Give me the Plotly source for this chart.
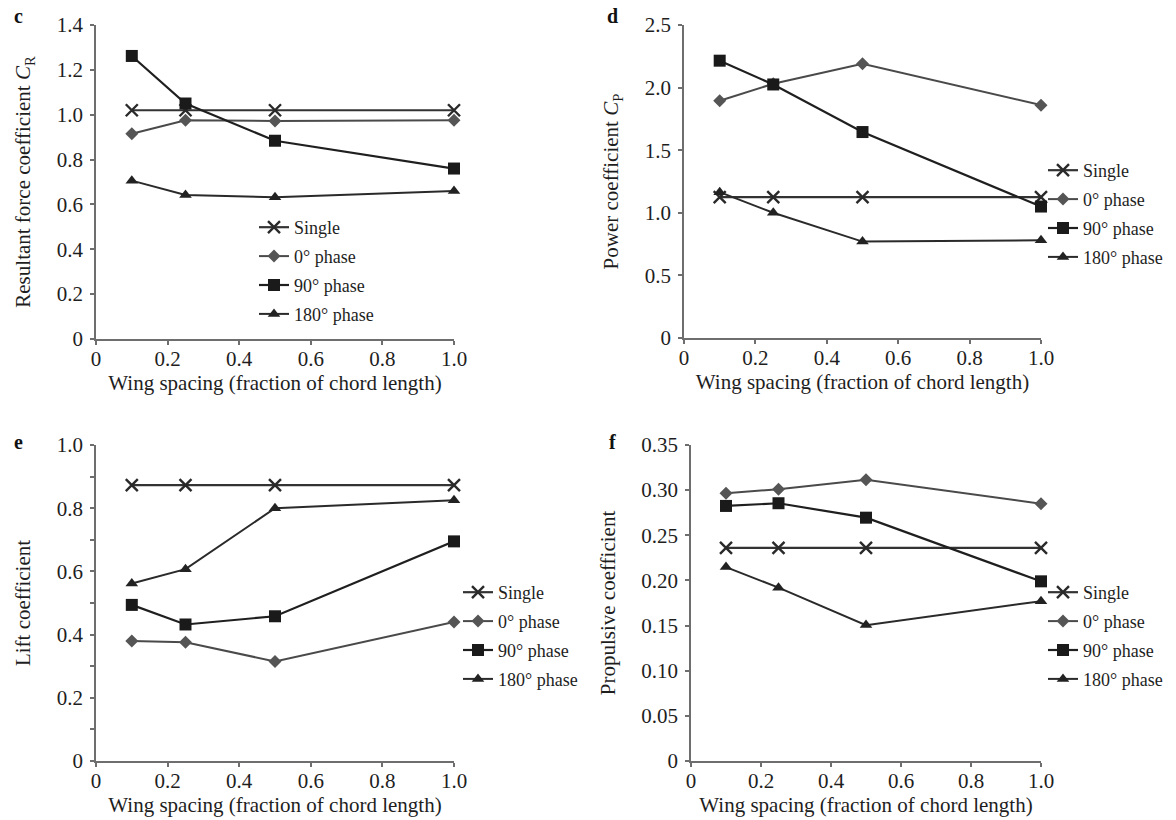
import plotly.graph_objects as go

# ---------------- data ----------------
spacing = [0.1, 0.25, 0.5, 1.0]
series_names = ["Single", "0° phase", "90° phase", "180° phase"]

# panel c: resultant force coefficient
cr_single = [1.02, 1.02, 1.02, 1.02]
cr_0 = [0.915, 0.975, 0.972, 0.975]
cr_90 = [1.262, 1.05, 0.884, 0.76]
cr_180 = [0.706, 0.642, 0.632, 0.66]

# panel d: power coefficient
cp_single = [1.125, 1.125, 1.125, 1.125]
cp_0 = [1.895, 2.03, 2.19, 1.86]
cp_90 = [2.215, 2.025, 1.645, 1.05]
cp_180 = [1.165, 1.0, 0.77, 0.78]

# panel e: lift coefficient
cl_single = [0.873, 0.873, 0.873, 0.873]
cl_0 = [0.38, 0.376, 0.315, 0.44]
cl_90 = [0.494, 0.432, 0.458, 0.695]
cl_180 = [0.562, 0.607, 0.80, 0.825]

# panel f: propulsive coefficient
ct_single = [0.236, 0.236, 0.236, 0.236]
ct_0 = [0.2965, 0.301, 0.3115, 0.285]
ct_90 = [0.2825, 0.2855, 0.2695, 0.199]
ct_180 = [0.2148, 0.192, 0.1505, 0.177]

x_ticks = [0, 0.2, 0.4, 0.6, 0.8, 1.0]
x_ticktext = ["0", "0.2", "0.4", "0.6", "0.8", "1.0"]
c_yticks = [0, 0.2, 0.4, 0.6, 0.8, 1.0, 1.2, 1.4]
c_yticktext = ["0", "0.2", "0.4", "0.6", "0.8", "1.0", "1.2", "1.4"]
d_yticks = [0, 0.5, 1.0, 1.5, 2.0, 2.5]
d_yticktext = ["0", "0.5", "1.0", "1.5", "2.0", "2.5"]
e_yticks = [0, 0.2, 0.4, 0.6, 0.8, 1.0]
e_yticktext = ["0", "0.2", "0.4", "0.6", "0.8", "1.0"]
f_yticks = [0, 0.05, 0.10, 0.15, 0.20, 0.25, 0.30, 0.35]
f_yticktext = ["0", "0.05", "0.10", "0.15", "0.20", "0.25", "0.30", "0.35"]

panel_letters = ["c", "d", "e", "f"]
y_titles = ["Resultant force coefficient <i>C</i><sub>R</sub>",
            "Power coefficient <i>C</i><sub>P</sub>",
            "Lift coefficient",
            "Propulsive coefficient"]
x_title = "Wing spacing (fraction of chord length)"

# ---------------- styling ----------------
FONT = "Liberation Serif, Times New Roman, serif"
W, H = 1176, 820
FS = 21
TXT = "#1e1e1e"
AXC = "#6e6e6e"

styles = [
    dict(symbol="x-thin", size=12, color="#2a2a2a", lw=2.2, mlw=2.4, lcolor="#333333"),
    dict(symbol="diamond", size=10, color="#555555", lw=2.0, mlw=0, lcolor="#4a4a4a"),
    dict(symbol="square", size=12, color="#1a1a1a", lw=2.2, mlw=0, lcolor="#1f1f1f"),
    dict(symbol="triangle-up", size=11, color="#222222", lw=2.0, mlw=0, lcolor="#2a2a2a"),
]

def px_x(p):
    return p / W

def px_y(p):
    return 1 - p / H

panels = [
    dict(data=[cr_single, cr_0, cr_90, cr_180], xd=(96, 454), yd=(25, 339),
         yr=[0, 1.4], yt=c_yticks, ytt=c_yticktext, minor=None,
         leg=(254, 209, "left"), letter_pos=(18, 16)),
    dict(data=[cp_single, cp_0, cp_90, cp_180], xd=(684, 1041), yd=(25, 338),
         yr=[0, 2.5], yt=d_yticks, ytt=d_yticktext, minor=None,
         leg=(1168, 152, "right"), letter_pos=(612, 16)),
    dict(data=[cl_single, cl_0, cl_90, cl_180], xd=(96, 454), yd=(445, 761),
         yr=[0, 1.0], yt=e_yticks, ytt=e_yticktext, minor=0.1,
         leg=(458, 574, "left"), letter_pos=(18, 442)),
    dict(data=[ct_single, ct_0, ct_90, ct_180], xd=(691, 1041), yd=(445, 761),
         yr=[0, 0.35], yt=f_yticks, ytt=f_yticktext, minor=None,
         leg=(1168, 574, "right"), letter_pos=(612, 442)),
]

fig = go.Figure()
layout = dict(
    width=W, height=H, margin=dict(l=0, r=0, t=0, b=0, autoexpand=False),
    paper_bgcolor="white", plot_bgcolor="white",
    font=dict(family=FONT, size=FS, color=TXT),
    showlegend=True,
)
annotations = []

for i, p in enumerate(panels):
    n = "" if i == 0 else str(i + 1)
    xa, ya = "x" + n, "y" + n
    legname = "legend" + n
    for k, (name, vals) in enumerate(zip(series_names, p["data"])):
        s = styles[k]
        fig.add_trace(go.Scatter(
            x=spacing, y=vals, name=name, mode="lines+markers",
            xaxis=xa, yaxis=ya, legend=legname, legendgroup=f"{i}-{k}",
            line=dict(color=s["lcolor"], width=s["lw"]),
            marker=dict(symbol=s["symbol"], size=s["size"], color=s["color"],
                        line=dict(width=s["mlw"], color=s["color"])),
            cliponaxis=False,
        ))
    axis_common = dict(showgrid=False, zeroline=False, showline=True, automargin=False,
                       linecolor=AXC, linewidth=1.8,
                       ticks="outside", ticklen=4, tickwidth=1.5, tickcolor=AXC,
                       tickfont=dict(family=FONT, size=FS, color=TXT))
    xkey = "xaxis" + n
    ykey = "yaxis" + n
    layout[xkey] = dict(
        domain=[px_x(p["xd"][0]), px_x(p["xd"][1])], anchor=ya,
        range=[0, 1.0], tickvals=x_ticks, ticktext=x_ticktext, ticklabelstandoff=-4,
        title=dict(text=x_title, font=dict(family=FONT, size=FS, color=TXT), standoff=4),
        **axis_common)
    ydict = dict(
        domain=[px_y(p["yd"][1]), px_y(p["yd"][0])], anchor=xa,
        range=p["yr"], tickvals=p["yt"], ticktext=p["ytt"], ticklabelstandoff=3,
        title=dict(text=y_titles[i], font=dict(family=FONT, size=FS, color=TXT), standoff=20),
        **axis_common)
    if p["minor"]:
        ydict["minor"] = dict(dtick=p["minor"], ticks="outside", ticklen=4,
                              tickwidth=1.5, tickcolor=AXC, showgrid=False)
    layout[ykey] = ydict
    layout[legname] = dict(
        x=px_x(p["leg"][0]), y=px_y(p["leg"][1]), xanchor=p["leg"][2], yanchor="top",
        bgcolor="rgba(0,0,0,0)", font=dict(family=FONT, size=18, color=TXT),
        tracegroupgap=2.5, itemwidth=30,
    )
    annotations.append(dict(
        text="<b>%s</b>" % panel_letters[i], xref="paper", yref="paper",
        x=px_x(p["letter_pos"][0]), y=px_y(p["letter_pos"][1]),
        xanchor="center", yanchor="middle", showarrow=False,
        font=dict(family=FONT, size=20, color="#111111")))

layout["annotations"] = annotations
fig.update_layout(**layout)
fig.write_html("out.html", config={"displayModeBar": False},
               post_script="document.body.style.margin='0';document.body.style.overflow='hidden';")
